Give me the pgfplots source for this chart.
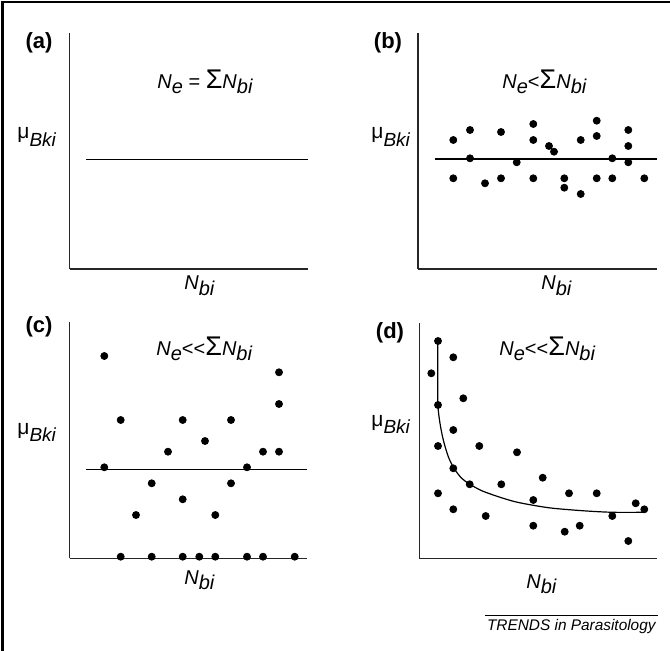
\documentclass[border=0pt]{standalone}
\usepackage{fontspec}
\setmainfont{Liberation Sans}
\usepackage{pgfplots}
\pgfplotsset{compat=1.18}
\newcommand\lo[1]{\raisebox{-2.8pt}{\itshape #1}}
\newcommand\Sig{{\fontsize{13.5}{13.5}\selectfont Σ}}
\newcommand\ttl[1]{{\fontsize{10}{11}\selectfont #1}}
\newcommand\mulab{{\fontsize{10.5}{11}\selectfont μ\raisebox{-3.6pt}{\fontsize{9.5}{10}\selectfont\itshape Bki}}}
\newcommand\nlab{{\fontsize{10}{11}\selectfont\itshape N\lo{bi}}}
\pgfplotsset{panel/.style={
  x=0.5pt, y=0.5pt, anchor=south west, disabledatascaling,
  axis x line=bottom, axis y line=left,
  axis line style={-, line width=0.75pt, black!85},
  xtick=\empty, ytick=\empty, clip=false},
  dots/.style={only marks, mark=*, mark size=1.75pt, black},
  ref/.style={black, line width=0.6pt, no marks}}
\tikzset{plab/.style={font=\bfseries\fontsize{11}{12}\selectfont}}
\begin{document}
\begin{tikzpicture}
\useasboundingbox (0,0) rectangle (335pt,-325.5pt);
\draw[line width=1.3pt] (1.1pt,-325.5pt) -- (1.1pt,-1.1pt) -- (335pt,-1.1pt);
% (a)
\begin{axis}[panel, at={(34.85pt,-134.5pt)}, xmin=69.7, xmax=308, ymin=-269, ymax=-33]
\addplot[ref] coordinates {(86,-159.3) (308,-159.3)};
\node[plab] at (axis cs:39,-43) {(a)};
\node[anchor=base west, inner sep=0] at (axis cs:157,-88.3) {\ttl{\itshape N\lo{e} \upshape= \Sig\itshape N\lo{bi}}};
\node[anchor=base west, inner sep=0] at (axis cs:17,-139) {\mulab};
\node[anchor=base west, inner sep=0] at (axis cs:184,-290) {\nlab};
\end{axis}
% (b)
\begin{axis}[panel, at={(209pt,-134.5pt)}, xmin=418, xmax=657, ymin=-269, ymax=-33]
\addplot[ref] coordinates {(435,-159) (657,-159)};
\addplot[dots] coordinates {
(453.3,-140) (453.3,-178.3) (470,-130) (470,-158.3) (485,-183.3)
(501,-132) (501,-178.3) (516.7,-162.3) (533.3,-124) (533.3,-140)
(533.3,-178.3) (549,-146) (554,-151.7) (564.3,-178.3) (564.3,-187.7)
(580.7,-140) (580.7,-194) (596.7,-120.7) (596.7,-136) (596.7,-178.3)
(612.3,-158.3) (612.3,-178.3) (628.3,-130) (628.3,-146) (628.3,-162.3)
(644.3,-178.3)};
\node[plab] at (axis cs:388,-43) {(b)};
\node[anchor=base west, inner sep=0] at (axis cs:502,-88.3) {\ttl{\itshape N\lo{e}\upshape<\Sig\itshape N\lo{bi}}};
\node[anchor=base west, inner sep=0] at (axis cs:371,-139) {\mulab};
\node[anchor=base west, inner sep=0] at (axis cs:541,-290) {\nlab};
\end{axis}
% (c)
\begin{axis}[panel, at={(34.85pt,-279.15pt)}, xmin=69.7, xmax=307, ymin=-558.3, ymax=-322]
\addplot[ref] coordinates {(86,-469.3) (307,-469.3)};
\addplot[dots] coordinates {
(104.3,-356) (104.3,-467.3) (120.7,-420) (120.7,-556.7) (136,-515)
(151.7,-483.3) (151.7,-556.7) (168,-451.7) (182.7,-420) (182.7,-499.3)
(182.7,-556.7) (199.3,-556.7) (205,-441) (215.3,-515) (215.3,-556.7)
(231,-420) (231,-483.3) (247,-467.3) (247,-556.7) (263,-451.7)
(263,-556.7) (279,-372.3) (279,-404) (279,-451.7) (294.7,-556.7)};
\node[plab] at (axis cs:39,-327) {(c)};
\node[anchor=base west, inner sep=0] at (axis cs:156,-355) {\ttl{\itshape N\lo{e}\upshape<{}<\Sig\itshape N\lo{bi}}};
\node[anchor=base west, inner sep=0] at (axis cs:17,-434) {\mulab};
\node[anchor=base west, inner sep=0] at (axis cs:184,-584) {\nlab};
\end{axis}
% (d)
\begin{axis}[panel, at={(209.65pt,-279.15pt)}, xmin=419.3, xmax=656.7, ymin=-558.3, ymax=-323]
\addplot[ref, smooth] coordinates {
(437.7,-341.7) (437.7,-373.3) (437.9,-405) (440,-423.3) (443.3,-440)
(448.3,-456.7) (454,-468.3) (461.7,-478.3) (470,-484.3) (481.7,-490.7)
(498.3,-496.7) (515,-501.7) (533.3,-505.3) (553.3,-508.3) (586.7,-511)
(613.3,-512.3) (643.3,-512.3)};
\addplot[dots] coordinates {
(438,-341) (431.3,-373.3) (438,-405) (438,-446) (438,-493.3)
(453.3,-357.3) (453.3,-430) (453.3,-468.3) (453.3,-509.3) (463.3,-398.3)
(469.7,-484.3) (479.3,-446) (485.7,-516) (501.3,-484.3) (517,-452.3)
(533.3,-500) (533.3,-525.7) (542.7,-477.7) (564.7,-531.7) (569,-493.3)
(579.7,-525.7) (596.7,-493.3) (612.3,-516) (628.3,-541) (635.7,-503.3)
(644.3,-509.3)};
\node[plab] at (axis cs:390,-333) {(d)};
\node[anchor=base west, inner sep=0] at (axis cs:499,-355) {\ttl{\itshape N\lo{e}\upshape<{}<\Sig\itshape N\lo{bi}}};
\node[anchor=base west, inner sep=0] at (axis cs:371,-426) {\mulab};
\node[anchor=base west, inner sep=0] at (axis cs:526,-588) {\nlab};
\draw[line width=0.5pt] (axis cs:485,-615) -- (axis cs:658,-615);
\node[anchor=base east, inner sep=0, font=\itshape\fontsize{7.7}{8}\selectfont] at (axis cs:656,-630) {TRENDS in Parasitology};
\end{axis}
\end{tikzpicture}
\end{document}
